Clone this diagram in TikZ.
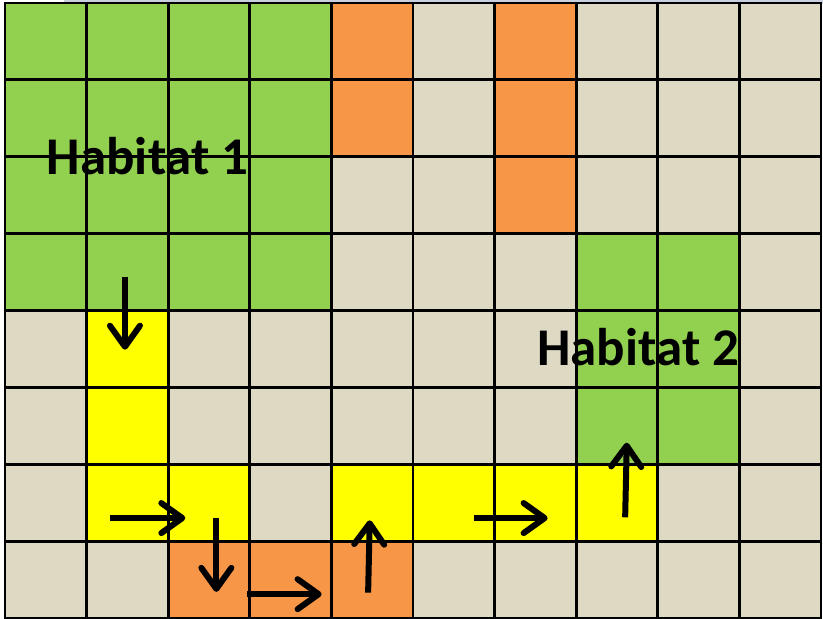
\documentclass[tikz,border=0pt]{standalone}
\usepackage{fontspec}
\setmainfont{Carlito}
\usetikzlibrary{arrows.meta}

\definecolor{habitat}{HTML}{92D050}
\definecolor{barrier}{HTML}{F79646}
\definecolor{ground}{HTML}{DDD9C3}
\definecolor{corridor}{HTML}{FFFF00}
\definecolor{strip}{HTML}{C9CFDF}

\tikzset{
  gridline/.style={line width=2.8pt, black},
  move/.style={line width=6pt, black,
    -{Straight Barb[length=21pt, width=30pt, round, line width=6pt]}},
  label/.style={font=\fontsize{53}{60}\selectfont\bfseries, inner sep=0pt, anchor=base}
}

\begin{document}
\begin{tikzpicture}[x=1pt, y=-1pt]
\useasboundingbox (0,0) rectangle (823,619);
\fill[strip] (64,0) rectangle (823,4);

\begin{scope}[shift={(5,3)}, x=81.6pt, y=-76.875pt]
  % landscape cells
  \fill[ground] (0,0) rectangle (10,8);
  \fill[habitat] (0,0) rectangle (4,4);
  \fill[habitat] (7,3) rectangle (9,6);
  \fill[barrier] (4,0) rectangle (5,2);
  \fill[barrier] (6,0) rectangle (7,3);
  \fill[barrier] (2,7) rectangle (5,8);
  \fill[corridor] (1,4) rectangle (2,7);
  \fill[corridor] (2,6) rectangle (3,7);
  \fill[corridor] (4,6) rectangle (8,7);
  % grid
  \foreach \c in {0,...,10} \draw[gridline] (\c,0) -- (\c,8);
  \foreach \r in {0,...,8} \draw[gridline] (0,\r) -- (10,\r);
  \draw[gridline] (0,0) rectangle (10,8);

  % labels
  \node[label] (h1) at (1.75,2.23) {Habitat 1};
  \node[label] (h2) at (7.76,4.72) {Habitat 2};

  % movement path
  \coordinate (a1) at (1.47,3.56);  \coordinate (b1) at (1.47,4.51);
  \coordinate (a2) at (1.29,6.70);  \coordinate (b2) at (2.21,6.70);
  \coordinate (a3) at (2.59,6.70);  \coordinate (b3) at (2.59,7.66);
  \coordinate (a4) at (2.97,7.69);  \coordinate (b4) at (3.88,7.69);
  \coordinate (a5) at (4.45,7.67);  \coordinate (b5) at (4.47,6.73);
  \coordinate (a6) at (5.75,6.70);  \coordinate (b6) at (6.65,6.70);
  \coordinate (a7) at (7.60,6.69);  \coordinate (b7) at (7.62,5.72);
  \foreach \i in {1,...,7} \draw[move] (a\i) -- (b\i);
\end{scope}
\end{tikzpicture}
\end{document}
